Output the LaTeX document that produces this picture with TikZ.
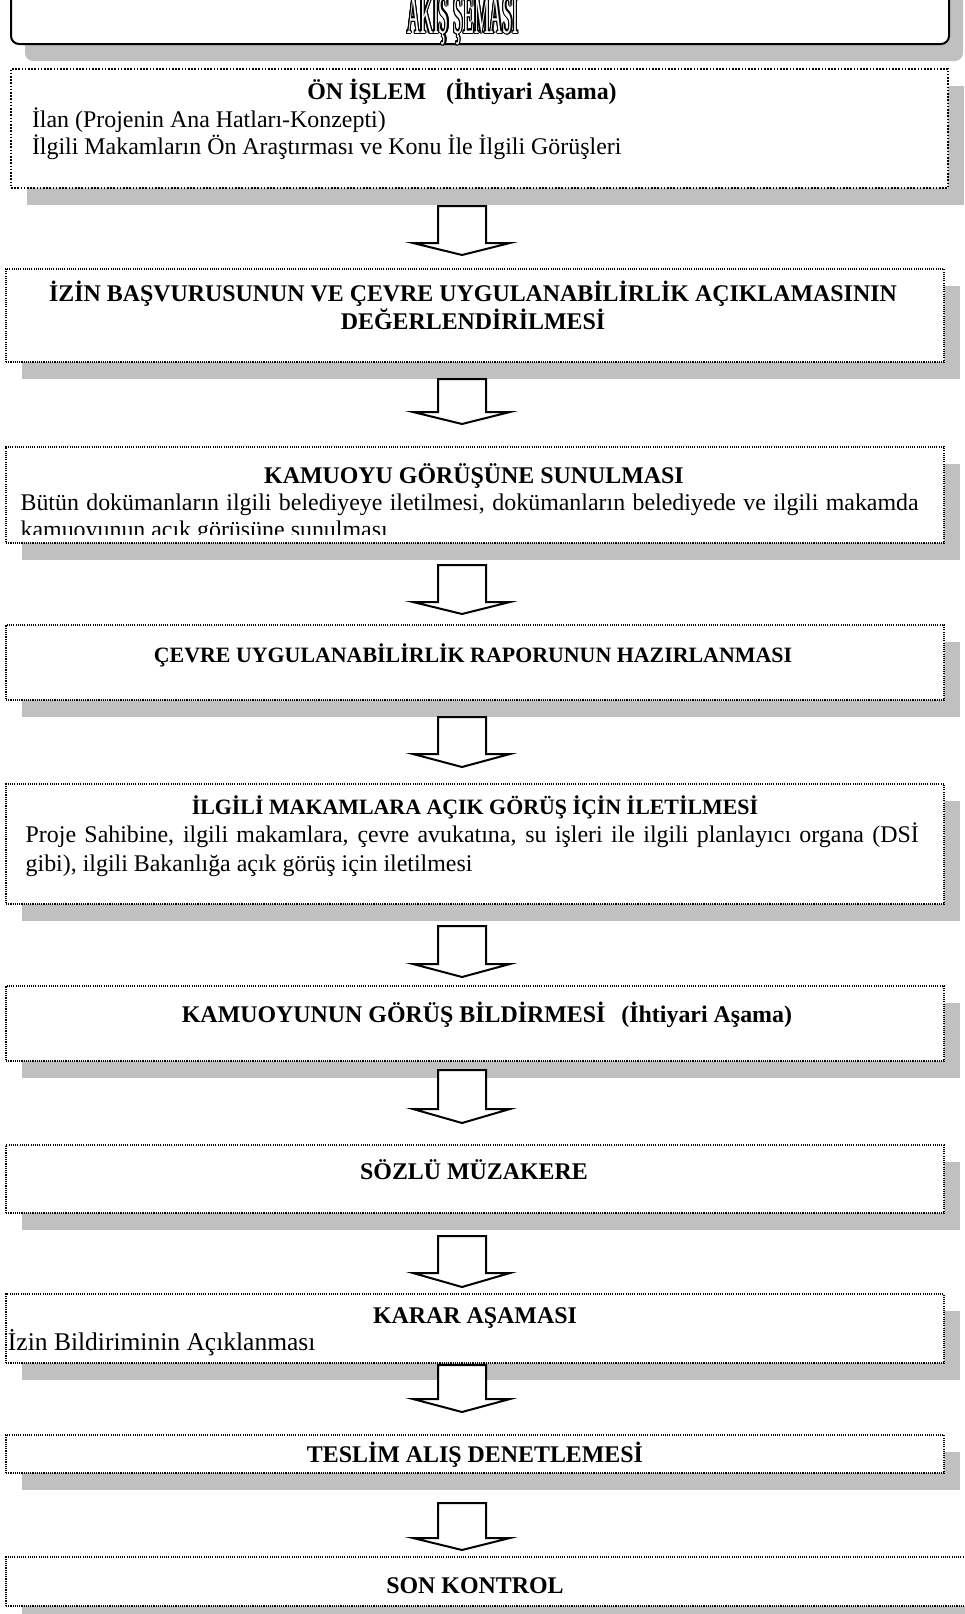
\documentclass[tikz,border=0pt]{standalone}
\usepackage{fontspec}
\setmainfont{Liberation Serif}
\newfontfamily\ttlfont[FakeStretch=0.33]{Liberation Serif}
\usetikzlibrary{shadows}
\definecolor{shadowgray}{HTML}{C0C0C0}
\newcommand\bodysize{\fontsize{23.9}{27}\selectfont}
\newcommand\smallhd{\fontsize{21.9}{27}\selectfont}
\newcommand\bigbody{\fontsize{25.5}{27}\selectfont}
\newcommand\blkarrow[3]{%
  \draw[arrowst] (438,#1) -- (438,#2) -- (413,#2) -- (462,#3) -- (510,#2) -- (486,#2) -- (486,#1) -- cycle;}
\begin{document}
\begin{tikzpicture}[x=1pt,y=-1pt,
  shd/.style={drop shadow={shadow xshift=16pt, shadow yshift=-17pt, fill=shadowgray, opacity=1}},
  dotbox/.style={draw=black, line width=1.1pt, dash pattern=on 1.1pt off 1.1pt, fill=white,
    anchor=north west, inner sep=0pt, outer sep=0pt, shd},
  heavydots/.style={line width=1.6pt, dash pattern=on 1.6pt off 1.6pt},
  titlebox/.style={draw=black, line width=2pt, rounded corners=8pt, fill=white,
    anchor=north west, inner sep=0pt, outer sep=0pt,
    drop shadow={shadow xshift=14pt, shadow yshift=-17pt, fill=shadowgray, opacity=1}},
  arrowst/.style={draw=black, line width=2pt, fill=white, line join=miter},
  txt/.style={inner sep=0pt, outer sep=0pt, font=\bodysize},
  hd/.style={txt, font=\bodysize\bfseries, anchor=base},
  ttl/.style={inner sep=0pt, outer sep=0pt, anchor=base, font=\ttlfont\fontsize{54}{54}\selectfont}
]
\useasboundingbox (0,0) rectangle (964,1614);

% title
\node[titlebox, minimum width=938pt, minimum height=70pt] (b0) at (11,-26) {};
\foreach \a in {0,30,...,330}
  \node[ttl, text=black] (o\a) at ([shift={(\a:1.2pt)}]463,33) {AKIŞ ŞEMASI};
\node[ttl, text=white] (title) at (463,33) {AKIŞ ŞEMASI};

% boxes
\node[dotbox, heavydots, minimum width=937pt, minimum height=119pt] (b1) at (11,69) {};
\node[dotbox, minimum width=938pt, minimum height=93pt] (b2) at (6,269) {};
\node[dotbox, minimum width=938pt, minimum height=96pt] (b3) at (6,447) {};
\node[dotbox, minimum width=938pt, minimum height=75pt] (b4) at (6,625) {};
\node[dotbox, minimum width=938pt, minimum height=120pt] (b5) at (6,784) {};
\node[dotbox, minimum width=938pt, minimum height=75pt] (b6) at (6,986) {};
\node[dotbox, minimum width=938pt, minimum height=68pt] (b7) at (6,1145) {};
\node[dotbox, minimum width=938pt, minimum height=69pt] (b8) at (6,1294) {};
\node[dotbox, minimum width=938pt, minimum height=38pt] (b9) at (6,1435) {};
\node[dotbox, minimum width=990pt, minimum height=49pt] (b10) at (6,1557) {};

% arrows
\blkarrow{206}{243}{255}
\blkarrow{379}{412}{424}
\blkarrow{565}{602}{614}
\blkarrow{717}{754}{767}
\blkarrow{926}{964}{977}
\blkarrow{1070}{1109}{1123}
\blkarrow{1236}{1273}{1287}
\blkarrow{1365}{1399}{1412}
\blkarrow{1503}{1538}{1550}

% texts
\node[hd] (t1) at (462,99) {ÖN İŞLEM\hspace{20pt}(İhtiyari Aşama)};
\node[txt, anchor=base west] (t1a) at (32,127) {İlan (Projenin Ana Hatları-Konzepti)};
\node[txt, anchor=base west] (t1b) at (32,154.5) {İlgili Makamların Ön Araştırması ve Konu İle İlgili Görüşleri};

\node[hd] (t2) at (473,301) {İZİN BAŞVURUSUNUN VE ÇEVRE UYGULANABİLİRLİK AÇIKLAMASININ};
\node[hd] (t2b) at (473,329) {DEĞERLENDİRİLMESİ};

\node[hd] (t3) at (474,483) {KAMUOYU GÖRÜŞÜNE SUNULMASI};
\node[txt, anchor=base west] (t3a) at (20.6,510) {\makebox[898pt][s]{Bütün dokümanların ilgili belediyeye iletilmesi, dokümanların belediyede ve ilgili makamda}};
\begin{scope}
\clip (6,447) rectangle (944,534);
\node[txt, anchor=base west] (t3b) at (20.6,537) {kamuoyunun açık görüşüne sunulması};
\end{scope}

\node[hd, font=\smallhd\bfseries] (t4) at (473,662) {ÇEVRE UYGULANABİLİRLİK RAPORUNUN HAZIRLANMASI};

\node[hd, font=\smallhd\bfseries] (t5) at (475,814) {İLGİLİ MAKAMLARA AÇIK GÖRÜŞ İÇİN İLETİLMESİ};
\node[txt, anchor=base west] (t5a) at (25.7,842.5) {\makebox[893pt][s]{Proje Sahibine, ilgili makamlara, çevre avukatına, su işleri ile ilgili planlayıcı organa (DSİ}};
\node[txt, anchor=base west] (t5b) at (25.7,871) {gibi), ilgili Bakanlığa açık görüş için iletilmesi};

\node[hd] (t6) at (487,1022) {KAMUOYUNUN GÖRÜŞ BİLDİRMESİ\hspace{16pt}(İhtiyari Aşama)};

\node[hd] (t7) at (474,1179) {SÖZLÜ MÜZAKERE};

\node[hd] (t8) at (475,1323) {KARAR AŞAMASI};
\node[txt, font=\bigbody, anchor=base west] (t8a) at (8,1350) {İzin Bildiriminin Açıklanması};

\node[hd] (t9) at (475,1462) {TESLİM ALIŞ DENETLEMESİ};

\node[hd] (t10) at (475,1593) {SON KONTROL};
\end{tikzpicture}
\end{document}
